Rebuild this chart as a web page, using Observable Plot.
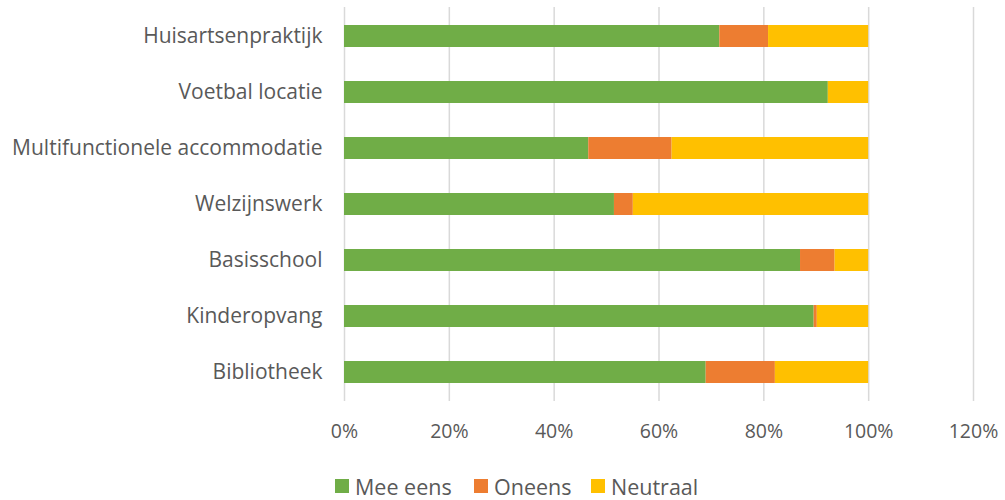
<!DOCTYPE html>
<html>
<head>
<meta charset="utf-8">
<script src="https://cdn.jsdelivr.net/npm/d3@7"></script>
<script src="https://cdn.jsdelivr.net/npm/@observablehq/plot@0.6"></script>
<style>
  body { margin: 0; background: white; }
  #wrap { position: relative; width: 1005px; height: 500px; font-family: "Open Sans", sans-serif; }
  #legend { position: absolute; left: 0; top: 472px; width: 1005px; height: 28px; font-size: 21.5px; color: #595959; }
  #legend span.item { position: absolute; top: 0; height: 28px; display: flex; align-items: center; white-space: nowrap; }
  #legend span.sw { width: 14px; height: 14px; display: inline-block; margin-right: 6px; }
</style>
</head>
<body>
<div id="wrap"><div id="chart"></div><div id="legend"></div></div>
<script>
const categories = ["Huisartsenpraktijk", "Voetbal locatie", "Multifunctionele accommodatie", "Welzijnswerk", "Basisschool", "Kinderopvang", "Bibliotheek"];
const series = ["Mee eens", "Oneens", "Neutraal"];
const colors = ["#70AD47", "#ED7D31", "#FFC000"];
const meeEens = [71.6, 92.3, 46.6, 51.5, 87.0, 89.6, 69.0];
const oneens = [9.3, 0, 15.9, 3.6, 6.6, 0.6, 13.2];
const neutraal = [19.1, 7.7, 37.5, 44.9, 6.4, 9.8, 17.8];
const xTicks = [0, 0.2, 0.4, 0.6, 0.8, 1.0, 1.2];

const values = [meeEens, oneens, neutraal];
const rows = categories.flatMap((c, i) => series.map((s, j) => ({ c, s, v: values[j][i] / 100 })));

const chart = Plot.plot({
  width: 1005,
  height: 455,
  marginLeft: 344,
  marginRight: 32,
  marginTop: 7,
  marginBottom: 54,
  style: { fontFamily: "'Open Sans', sans-serif", fontSize: "19px", color: "#595959", background: "white" },
  x: { domain: [0, 1.2], label: null },
  y: { domain: categories, paddingInner: 0.6, paddingOuter: 0.3, label: null },
  color: { domain: series, range: colors },
  marks: [
    Plot.gridX(xTicks, { stroke: "#d9d9d9", strokeWidth: 1.5, strokeOpacity: 1 }),
    Plot.barX(rows, Plot.stackX({ x: "v", y: "c", fill: "s", order: series })),
    Plot.axisX(xTicks, { tickSize: 0, tickPadding: 23, tickFormat: d => Math.round(d * 100) + "%", fill: "#595959", fontSize: 19.5 }),
    Plot.axisY({ tickSize: 0, tickPadding: 22, fill: "#595959", fontSize: 21 })
  ]
});
document.getElementById("chart").appendChild(chart);

const legendX = [335, 474, 591];
const legend = document.getElementById("legend");
series.forEach((s, i) => {
  const item = document.createElement("span");
  item.className = "item";
  item.style.left = legendX[i] + "px";
  const sw = document.createElement("span");
  sw.className = "sw";
  sw.style.background = colors[i];
  item.appendChild(sw);
  item.appendChild(document.createTextNode(s));
  legend.appendChild(item);
});
</script>
</body>
</html>
